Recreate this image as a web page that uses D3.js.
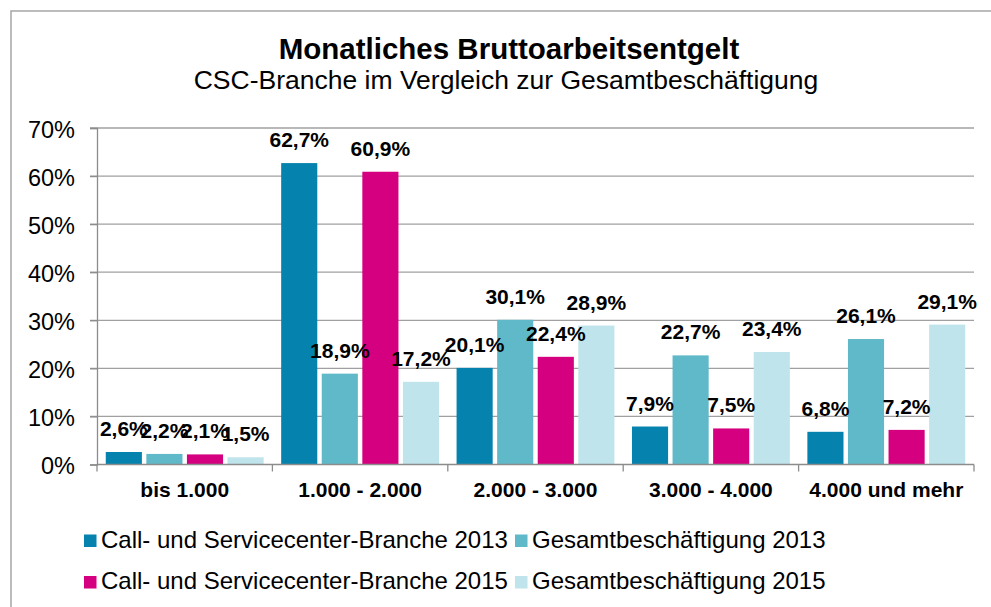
<!DOCTYPE html>
<html>
<head>
<meta charset="utf-8">
<script src="https://cdn.jsdelivr.net/npm/d3@7"></script>
<style>
  body { margin: 0; background: #fff; }
  svg text { font-family: "Liberation Sans", Arial, sans-serif; fill: #000; }
</style>
</head>
<body>
<svg id="chart" width="991" height="607"></svg>
<script>
// data
var categories = ["bis 1.000", "1.000 - 2.000", "2.000 - 3.000", "3.000 - 4.000", "4.000 und mehr"];
var seriesNames = [
	"Call- und Servicecenter-Branche 2013",
	"Gesamtbeschäftigung 2013",
	"Call- und Servicecenter-Branche 2015",
	"Gesamtbeschäftigung 2015"
];
var csc2013 = [2.6, 62.7, 20.1, 7.9, 6.8];
var ges2013 = [2.2, 18.9, 30.1, 22.7, 26.1];
var csc2015 = [2.1, 60.9, 22.4, 7.5, 7.2];
var ges2015 = [1.5, 17.2, 28.9, 23.4, 29.1];
var yTicks = [0, 10, 20, 30, 40, 50, 60, 70];

var colors = ["#0582ad", "#60b9c9", "#d5007f", "#bfe4eb"];
var values = [csc2013, ges2013, csc2015, ges2015];

var svg = d3.select("#chart");

// outer frame
svg.append("rect")
	.attr("x", 11).attr("y", 11)
	.attr("width", 1000).attr("height", 620)
	.attr("fill", "none")
	.attr("stroke", "#a6a6a6")
	.attr("stroke-width", 1.5);

// titles
svg.append("text")
	.attr("x", 509).attr("y", 59)
	.attr("text-anchor", "middle")
	.style("font-size", "29.5px")
	.style("font-weight", "bold")
	.text("Monatliches Bruttoarbeitsentgelt");
svg.append("text")
	.attr("x", 506).attr("y", 89)
	.attr("text-anchor", "middle")
	.style("font-size", "26.5px")
	.text("CSC-Branche im Vergleich zur Gesamtbeschäftigung");

var plotLeft = 97, plotRight = 974, plotTop = 128, plotBottom = 464.5;

var x0 = d3.scaleBand()
	.domain(categories)
	.range([plotLeft, plotRight])
	.paddingInner(0.1)
	.paddingOuter(0.05);

var x1 = d3.scaleBand()
	.domain(d3.range(seriesNames.length))
	.range([0, x0.bandwidth()])
	.paddingInner(0.11);

var y = d3.scaleLinear()
	.domain([0, 70])
	.range([plotBottom, plotTop]);

// gridlines
svg.append("g")
	.selectAll("line")
	.data(yTicks.slice(1))
	.join("line")
	.attr("x1", plotLeft - 7).attr("x2", plotRight)
	.attr("y1", function(d){ return y(d) })
	.attr("y2", function(d){ return y(d) })
	.attr("stroke", "#a0a0a0")
	.attr("stroke-width", 1.3);

// y axis
var yAxis = svg.append("g")
	.attr("transform", "translate(" + plotLeft + ",0)")
	.call(d3.axisLeft(y).tickValues(yTicks).tickSize(7).tickPadding(15)
		.tickFormat(function(d){ return d + "%" }));
yAxis.attr("font-family", null).attr("font-size", null);
yAxis.select(".domain").attr("stroke", "#8c8c8c").attr("stroke-width", 1.3);
yAxis.selectAll(".tick line").attr("stroke", "#8c8c8c").attr("stroke-width", 1.3);
yAxis.selectAll(".tick text")
	.style("font-size", "23.5px")
	.attr("dy", "0.4em");

// bars
var groups = svg.append("g")
	.selectAll("g")
	.data(categories)
	.join("g")
	.attr("transform", function(d){ return "translate(" + x0(d) + ",0)" });

function cells(d, i) {
	return values.map(function(s, j){ return {s: j, v: s[i]} });
}

groups.selectAll("rect")
	.data(cells)
	.join("rect")
	.attr("x", function(d){ return x1(d.s) })
	.attr("width", x1.bandwidth())
	.attr("y", function(d){ return y(d.v) })
	.attr("height", function(d){ return plotBottom - y(d.v) })
	.attr("fill", function(d){ return colors[d.s] });

groups.selectAll("text")
	.data(cells)
	.join("text")
	.attr("x", function(d){ return x1(d.s) + x1.bandwidth()/2 })
	.attr("y", function(d){ return y(d.v) - 16 })
	.attr("text-anchor", "middle")
	.style("font-size", "21px")
	.style("font-weight", "bold")
	.text(function(d){ return d.v.toFixed(1).replace(".", ",") + "%" });

// x axis
var xAxis = svg.append("g")
	.attr("transform", "translate(0," + plotBottom + ")");
xAxis.append("line")
	.attr("x1", plotLeft).attr("x2", plotRight)
	.attr("stroke", "#8c8c8c").attr("stroke-width", 1.3);
xAxis.selectAll(".sep")
	.data(d3.range(categories.length + 1))
	.join("line")
	.attr("class", "sep")
	.attr("x1", function(i){ return plotLeft + i * x0.step() })
	.attr("x2", function(i){ return plotLeft + i * x0.step() })
	.attr("y1", 0).attr("y2", 7)
	.attr("stroke", "#8c8c8c").attr("stroke-width", 1.3);
xAxis.selectAll(".cat")
	.data(categories)
	.join("text")
	.attr("class", "cat")
	.attr("x", function(d){ return x0(d) + x0.bandwidth()/2 })
	.attr("y", 32)
	.attr("text-anchor", "middle")
	.style("font-size", "21px")
	.style("font-weight", "bold")
	.text(function(d){ return d });

// legend, 2 x 2
var legendPos = [[84, 547.5], [515, 547.5], [84, 589], [515, 589]];
var legend = svg.append("g")
	.selectAll("g")
	.data(seriesNames)
	.join("g")
	.attr("transform", function(d, i){ return "translate(" + legendPos[i][0] + "," + legendPos[i][1] + ")" });
legend.append("rect")
	.attr("x", 0).attr("y", -13)
	.attr("width", 12.5).attr("height", 12.5)
	.attr("fill", function(d, i){ return colors[i] });
legend.append("text")
	.attr("x", 17)
	.attr("y", 0)
	.style("font-size", "24px")
	.text(function(d){ return d });
</script>
</body>
</html>
